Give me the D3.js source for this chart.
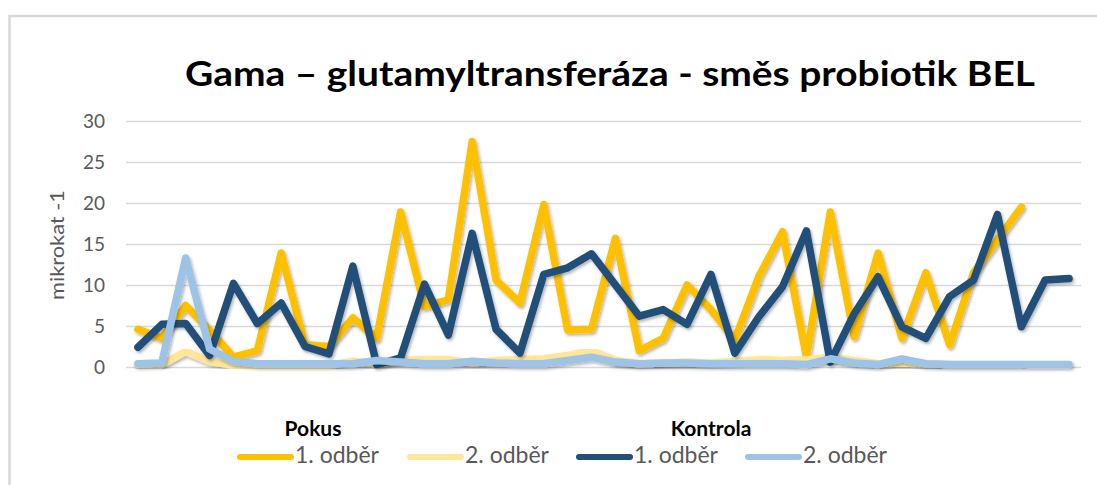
<!DOCTYPE html>
<html>
<head>
<meta charset="utf-8">
<script src="https://cdn.jsdelivr.net/npm/d3@7"></script>
<style>
  body { margin: 0; background: #fff; }
  svg { display: block; font-family: Lato, "Open Sans", sans-serif; }
</style>
</head>
<body>
<div id="visualization"></div>
<script>
// sample numbers along x (no labels shown on the axis)
var categories = [1,2,3,4,5,6,7,8,9,10,11,12,13,14,15,16,17,18,19,20,
                  21,22,23,24,25,26,27,28,29,30,31,32,33,34,35,36,37,38,39,40];

// Pokus
var pokus1 = [4.6,3.5,7.5,4.5,1.2,2,13.9,2.7,2.5,6,3.5,18.9,7.4,8.2,27.5,10.6,7.8,19.8,4.5,4.6,
              15.7,2,3.5,10,7,3.3,11,16.5,1.2,18.9,3.7,13.9,3.5,11.5,2.7,11.5,15.5,19.5,null,null];
var pokus2 = [0.3,0.3,1.9,0.7,0.2,0.1,0.1,0.1,0.2,0.7,0.4,0.8,0.9,0.9,0.5,0.8,0.9,1.0,1.4,2.0,
              0.8,0.4,0.5,0.6,0.5,0.7,0.9,0.8,0.9,1.2,0.8,0.4,0.5,0.4,0.3,0.3,0.3,0.3,null,null];
// Kontrola
var kontrola1 = [2.4,5.2,5.3,1.4,10.2,5.3,7.8,2.5,1.6,12.3,0.3,1.1,10.1,3.9,16.3,4.6,1.7,11.3,12.1,13.8,
                 10,6.2,7,5.2,11.3,1.7,6.1,9.8,16.6,0.6,6.5,11,4.9,3.5,8.6,10.6,18.6,4.9,10.6,10.8];
var kontrola2 = [0.4,0.5,13.3,2.2,0.7,0.4,0.4,0.4,0.4,0.4,0.8,0.6,0.4,0.4,0.7,0.5,0.4,0.4,0.8,1.2,
                 0.6,0.4,0.5,0.5,0.4,0.4,0.4,0.4,0.3,1.0,0.5,0.3,1.0,0.4,0.3,0.3,0.3,0.3,0.3,0.3];

var yTicks = [0,5,10,15,20,25,30];
var groupLabels = ["Pokus", "Kontrola"];
var seriesLabels = ["1. odběr", "2. odběr", "1. odběr", "2. odběr"];
var seriesColors = ["#ffc000", "#ffe699", "#22507a", "#9dc3e6"];

var width = 1097, height = 485;

var svg = d3.select("#visualization")
    .append("svg")
    .attr("width", width)
    .attr("height", height);

var defs = svg.append("defs");
var shadow = defs.append("filter").attr("id", "shadow")
    .attr("x", "-5%").attr("y", "-5%").attr("width", "110%").attr("height", "120%");
shadow.append("feDropShadow")
    .attr("dx", 1.5).attr("dy", 2).attr("stdDeviation", 1.4)
    .attr("flood-color", "#000").attr("flood-opacity", 0.3);

// chart area border
svg.append("rect")
    .attr("x", 9.5).attr("y", 16)
    .attr("width", width + 20).attr("height", height + 20)
    .attr("fill", "#fff")
    .attr("stroke", "#d9d9d9")
    .attr("stroke-width", 2.5);

// title
svg.append("text")
    .attr("x", 185).attr("y", 86)
    .attr("textLength", 850)
    .attr("lengthAdjust", "spacingAndGlyphs")
    .style("font-size", "34px")
    .style("font-weight", "bold")
    .style("fill", "#000")
    .text("Gama – glutamyltransferáza - směs probiotik BEL");

var x = d3.scalePoint()
    .domain(categories)
    .range([126, 1081])
    .padding(0.5);

var y = d3.scaleLinear()
    .domain([0, 30])
    .range([367, 121]);

// gridlines + y labels
var yAxis = d3.axisLeft(y)
    .tickValues(yTicks)
    .tickSize(-(x.range()[1] - x.range()[0]))
    .tickPadding(21);

var gy = svg.append("g")
    .attr("transform", "translate(" + x.range()[0] + ",0)")
    .call(yAxis);
gy.select(".domain").remove();
gy.selectAll(".tick line")
    .attr("stroke", "#d9d9d9")
    .attr("stroke-width", 1.6);
gy.selectAll(".tick text")
    .style("font-size", "19px")
    .style("font-family", "Lato, 'Open Sans', sans-serif")
    .attr("fill", "#595959");

// axis title
svg.append("text")
    .attr("transform", "translate(64,245) rotate(-90)")
    .attr("text-anchor", "middle")
    .attr("textLength", 110)
    .attr("lengthAdjust", "spacingAndGlyphs")
    .style("font-size", "19px")
    .style("fill", "#595959")
    .text("mikrokat -1");

// series lines
var series = [pokus1, pokus2, kontrola1, kontrola2];

var line = d3.line()
    .defined(function(d) { return d != null; })
    .x(function(d, i) { return x(categories[i]); })
    .y(function(d) { return y(d); });

var lines = svg.append("g").attr("class", "lines");
series.forEach(function(values, k) {
    lines.append("path")
        .datum(values)
        .attr("d", line)
        .attr("fill", "none")
        .attr("stroke", seriesColors[k])
        .attr("stroke-width", 7.5)
        .attr("stroke-linejoin", "round")
        .attr("stroke-linecap", "round")
        .attr("filter", "url(#shadow)");
});

/* ------- LEGEND -------*/
var legend = svg.append("g").attr("class", "legend");

var groupX = [313, 711];
legend.selectAll("text.group")
    .data(groupLabels)
    .enter().append("text")
    .attr("class", "group")
    .attr("x", function(d, i) { return groupX[i]; })
    .attr("y", 436)
    .attr("text-anchor", "middle")
    .style("font-size", "21px")
    .style("font-weight", "bold")
    .style("fill", "#000")
    .text(function(d) { return d; });

var itemX = [238, 408, 577, 746];
var item = legend.selectAll("g.item")
    .data(seriesLabels)
    .enter().append("g")
    .attr("class", "item")
    .attr("transform", function(d, i) { return "translate(" + itemX[i] + ",0)"; });

item.append("line")
    .attr("x1", 2).attr("x2", 53)
    .attr("y1", 457).attr("y2", 457)
    .attr("stroke", function(d, i) { return seriesColors[i]; })
    .attr("stroke-width", 6)
    .attr("stroke-linecap", "round");

item.append("text")
    .attr("x", 57)
    .attr("y", 463)
    .attr("textLength", 84)
    .attr("lengthAdjust", "spacingAndGlyphs")
    .style("font-size", "23px")
    .style("fill", "#595959")
    .text(function(d) { return d; });
</script>
</body>
</html>
